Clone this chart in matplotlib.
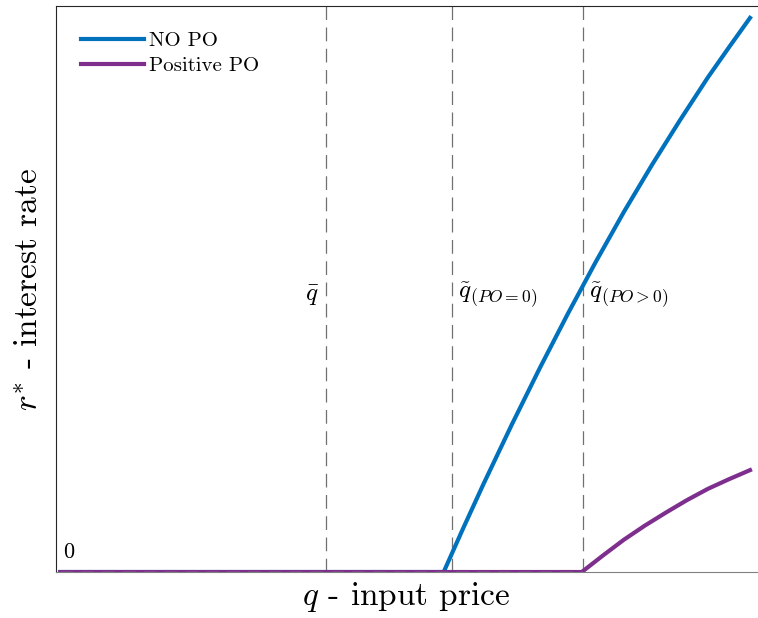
import matplotlib
matplotlib.use("Agg")
import matplotlib.pyplot as plt

plt.rcParams['font.family'] = 'serif'
plt.rcParams['font.serif'] = ['cmr10', 'DejaVu Serif']
plt.rcParams['mathtext.fontset'] = 'cm'
plt.rcParams['axes.unicode_minus'] = False

# values (q on a 0..10 scale, r* on a 0..1 scale)
q_no_po = [0.06, 5.53, 5.8, 6.1, 6.5, 6.9, 7.3, 7.7, 8.1, 8.5, 8.9, 9.3, 9.6, 9.9]
r_no_po = [0.0, 0.0, 0.075, 0.156, 0.260, 0.360, 0.456, 0.548, 0.636, 0.719, 0.798, 0.874, 0.927, 0.979]

q_pos_po = [0.06, 7.50, 7.8, 8.1, 8.4, 8.7, 9.0, 9.3, 9.6, 9.9]
r_pos_po = [0.0, 0.0, 0.029, 0.057, 0.082, 0.105, 0.127, 0.147, 0.164, 0.180]

q_marks = [3.85, 5.65, 7.52]
mark_labels = [r'$\bar{q}$', r'$\tilde{q}_{(PO=0)}$', r'$\tilde{q}_{(PO>0)}$']

blue = '#0072BD'
purple = '#7E2F8E'

fig = plt.figure(figsize=(7.58, 6.18), dpi=100)
ax = fig.add_axes([0.0739, 0.0744, 0.9248, 0.9159])

for qm in q_marks:
    ax.axvline(qm, color='#707070', lw=0.9, ls=(0, (11, 6)), zorder=1)

ax.plot(q_no_po, r_no_po, color=blue, lw=3, label='NO PO', zorder=3)
ax.plot(q_pos_po, r_pos_po, color=purple, lw=3, label='Positive PO', zorder=4)
# dashed zero line shows through the flat part
ax.plot([q_pos_po[0], q_pos_po[1]], [0, 0], color='#8c8c8c', lw=1.0, ls=(0, (9, 6)), zorder=5)

ax.text(q_marks[0] - 0.1, 0.49, mark_labels[0], fontsize=18, ha='right', va='center')
ax.text(q_marks[1] + 0.08, 0.49, mark_labels[1], fontsize=18, ha='left', va='center')
ax.text(q_marks[2] + 0.08, 0.49, mark_labels[2], fontsize=18, ha='left', va='center')
ax.text(0.1, 0.017, '0', fontsize=16, ha='left', va='bottom')

ax.set_xlim(0, 10)
ax.set_ylim(0, 1)
ax.set_xticks([])
ax.set_yticks([])
ax.spines['right'].set_visible(False)
ax.spines['bottom'].set_color('#808080')
ax.spines['left'].set_color('#262626')
ax.spines['top'].set_color('#262626')

ax.set_xlabel(r'$q$ - input price', fontsize=24, labelpad=6)
ax.set_ylabel(r'$r^{*}$ - interest rate', fontsize=24, labelpad=8)

ax.legend(loc='upper left', frameon=False, fontsize=15, handlelength=3.0,
          handletextpad=0.25, labelspacing=0.3, bbox_to_anchor=(0.009, 0.988))

fig.savefig('out.png', dpi=100)
